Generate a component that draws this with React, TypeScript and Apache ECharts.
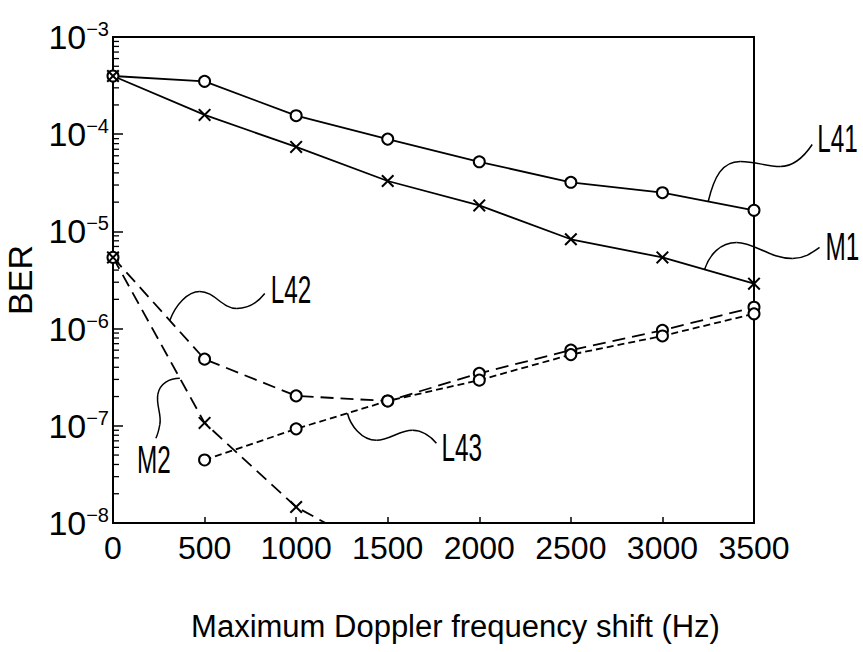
import React, { useEffect, useRef } from "react";
import * as echarts from "echarts";

const FONT = "'Liberation Sans', Arial, sans-serif";

// Maximum Doppler frequency shift (Hz)
const xVals = [0, 500, 1000, 1500, 2000, 2500, 3000, 3500];
// BER series
const L41 = [3.97e-4, 3.5e-4, 1.55e-4, 8.9e-5, 5.2e-5, 3.2e-5, 2.5e-5, 1.65e-5];
const M1 = [3.97e-4, 1.58e-4, 7.4e-5, 3.3e-5, 1.85e-5, 8.3e-6, 5.4e-6, 2.9e-6];
const L42 = [5.4e-6, 4.85e-7, 2.03e-7, 1.8e-7, 3.47e-7, 6.0e-7, 9.6e-7, 1.66e-6];
const L43 = [null, 4.45e-8, 9.3e-8, 1.8e-7, 2.95e-7, 5.4e-7, 8.4e-7, 1.42e-6];
const M2 = [5.4e-6, 1.07e-7, 1.46e-8, 4.5e-9, null, null, null, null];

const decades = [1e-8, 1e-7, 1e-6, 1e-5, 1e-4];
const minorMult = [2, 3, 4, 5, 6, 7, 8, 9];
const minorTicks: number[] = [];
decades.forEach((d) => minorMult.forEach((m) => minorTicks.push(d * m)));

// annotation labels: [text, series, anchor x (Hz)]
const annotations: [string, (number | null)[], number][] = [
  ["L41", L41, 3250],
  ["M1", M1, 3230],
  ["L42", L42, 310],
  ["M2", M2, 365],
  ["L43", L43, 1280],
];

const X_SYMBOL =
  "path://M1.1,0L5,3.9L8.9,0L10,1.1L6.1,5L10,8.9L8.9,10L5,6.1L1.1,10L0,8.9L3.9,5L0,1.1Z";

function pairs(ys: (number | null)[]) {
  const out: number[][] = [];
  ys.forEach((y, i) => {
    if (y != null) out.push([xVals[i], y]);
  });
  return out;
}

function interpLog(ys: (number | null)[], x: number): number {
  const pts = pairs(ys);
  for (let i = 0; i < pts.length - 1; i++) {
    const [x0, y0] = pts[i];
    const [x1, y1] = pts[i + 1];
    if (x >= x0 && x <= x1) {
      const t = (x - x0) / (x1 - x0);
      return Math.pow(10, Math.log10(y0) + t * (Math.log10(y1) - Math.log10(y0)));
    }
  }
  return pts[pts.length - 1][1];
}

// relative leader-curve shapes (pixels from anchor) and label offsets
const curveShapes: Record<string, { segs: number[][]; label: number[]; align: string }> = {
  L41: {
    segs: [
      [0, 0, 6, -25, 14, -40, 32, -40],
      [32, -40, 48, -40, 58, -35, 72, -35],
      [72, -35, 86, -35, 96, -45, 104, -57],
    ],
    label: [109, -63],
    align: "left",
  },
  M1: {
    segs: [
      [0, 0, 5, -15, 16, -27, 32, -27],
      [32, -27, 50, -27, 65, -11, 88, -11],
      [88, -11, 100, -11, 108, -17, 115, -22],
    ],
    label: [121, -23],
    align: "left",
  },
  L42: {
    segs: [
      [0, 0, 6, -16, 18, -29, 30, -29],
      [30, -29, 45, -29, 52, -12, 67, -12],
      [67, -12, 80, -12, 88, -18, 95, -27],
    ],
    label: [101, -31],
    align: "left",
  },
  M2: {
    segs: [
      [0, 0, -10, 0, -20, 5, -22, 16],
      [-22, 16, -24, 27, -18, 36, -20, 46],
      [-20, 46, -21, 52, -22, 56, -24, 60],
    ],
    label: [-26, 82],
    align: "center",
  },
  L43: {
    segs: [
      [0, 0, 3, 12, 14, 27, 29, 27],
      [29, 27, 42, 27, 52, 17, 65, 17],
      [65, 17, 75, 17, 84, 24, 89, 30],
    ],
    label: [94, 35],
    align: "left",
  },
};

export default function App() {
  const ref = useRef<HTMLDivElement>(null);
  useEffect(() => {
    if (!ref.current) return;
    const chart = echarts.init(ref.current, undefined, { renderer: "svg" });
    const lineSeries = (
      name: string,
      ys: (number | null)[],
      symbol: string,
      size: number,
      dash: any
    ) => ({
      name,
      type: "line",
      data: pairs(ys),
      symbol,
      symbolSize: size,
      showSymbol: true,
      clip: true,
      color: "#000",
      lineStyle: { color: "#000", width: 1.8, type: dash },
      itemStyle:
        symbol === "emptyCircle"
          ? { color: "#000", borderColor: "#000", borderWidth: 1.6 }
          : { color: "#000", borderWidth: 0 },
      emphasis: { disabled: true },
      z: 3,
    });
    const option: any = {
      animation: false,
      backgroundColor: "#fff",
      grid: {
        left: 113,
        right: 109,
        top: 37,
        bottom: 129,
        containLabel: false,
        outerBoundsMode: "none",
        show: true,
        borderColor: "#000",
        borderWidth: 2,
        backgroundColor: "transparent",
      },
      xAxis: {
        type: "value",
        min: 0,
        max: 3500,
        interval: 500,
        axisLine: { show: true, lineStyle: { color: "#000", width: 2 } },
        axisTick: { show: true, inside: true, length: 6, lineStyle: { color: "#000", width: 1.5 } },
        splitLine: { show: false },
        axisLabel: {
          color: "#000",
          fontSize: 32,
          fontFamily: FONT,
          margin: 9,
          showMaxLabel: true,
          showMinLabel: true,
          hideOverlap: false,
          formatter: (v: number) => String(v),
        },
        name: "Maximum Doppler frequency shift (Hz)",
        nameLocation: "middle",
        nameGap: 88,
        nameTextStyle: {
          color: "#000",
          fontSize: 31,
          fontFamily: FONT,
          padding: [0, 0, 0, 44],
        },
      },
      yAxis: {
        type: "log",
        logBase: 10,
        min: 1e-8,
        max: 1e-3,
        axisLine: { show: true, lineStyle: { color: "#000", width: 2 } },
        axisTick: { show: true, inside: true, length: 10, lineStyle: { color: "#000", width: 1.5 } },
        splitLine: { show: false },
        minorTick: { show: false },
        axisLabel: {
          margin: 4,
          formatter: (v: number) => {
            const e = Math.round(Math.log10(v));
            return "{b|10}{s|\u2212" + Math.abs(e) + "}";
          },
          rich: {
            b: { fontSize: 34, fontFamily: FONT, color: "#000", lineHeight: 36 },
            s: { fontSize: 20, fontFamily: FONT, color: "#000", verticalAlign: "top", lineHeight: 20 },
          },
        },
        name: "BER",
        nameLocation: "middle",
        nameGap: 68,
        nameRotate: 90,
        nameTextStyle: { color: "#000", fontSize: 34, fontFamily: FONT },
      },
      series: [
        {
          type: "custom",
          name: "minorTicks",
          data: minorTicks.map((v) => [0, v]),
          silent: true,
          clip: false,
          renderItem: (params: any, api: any) => {
            const p = api.coord([0, api.value(1)]);
            return {
              type: "line",
              shape: { x1: p[0], y1: p[1], x2: p[0] + 6, y2: p[1] },
              style: { stroke: "#000", lineWidth: 1.3 },
            };
          },
          z: 2,
        },
        lineSeries("L41", L41, "emptyCircle", 11, "solid"),
        lineSeries("M1", M1, X_SYMBOL, 13, "solid"),
        lineSeries("L42", L42, "emptyCircle", 11, [13, 7]),
        lineSeries("L43", L43, "emptyCircle", 11, [7, 4]),
        lineSeries("M2", M2, X_SYMBOL, 13, [13, 7]),
      ],
    };
    chart.setOption(option);

    const graphics: any[] = [];
    annotations.forEach(([label, ys, hz]) => {
      const y = interpLog(ys, hz);
      const p = chart.convertToPixel({ xAxisIndex: 0, yAxisIndex: 0 }, [hz, y]) as number[];
      const shape = curveShapes[label];
      shape.segs.forEach((s) => {
        graphics.push({
          type: "bezierCurve",
          silent: true,
          shape: {
            x1: p[0] + s[0],
            y1: p[1] + s[1],
            cpx1: p[0] + s[2],
            cpy1: p[1] + s[3],
            cpx2: p[0] + s[4],
            cpy2: p[1] + s[5],
            x2: p[0] + s[6],
            y2: p[1] + s[7],
          },
          style: { stroke: "#000", lineWidth: 1.5, fill: "none" },
          z: 10,
        });
      });
      graphics.push({
        type: "text",
        silent: true,
        x: p[0] + shape.label[0],
        y: p[1] + shape.label[1],
        scaleX: 0.64,
        style: {
          text: label,
          fontSize: 38,
          fontFamily: FONT,
          fill: "#000",
          align: shape.align,
          verticalAlign: "middle",
        },
        z: 10,
      });
    });
    chart.setOption({ graphic: graphics });

    return () => chart.dispose();
  }, []);
  return (
    <div
      ref={ref}
      style={{ position: "fixed", left: 0, top: 0, width: 863, height: 652, background: "#fff" }}
    />
  );
}
